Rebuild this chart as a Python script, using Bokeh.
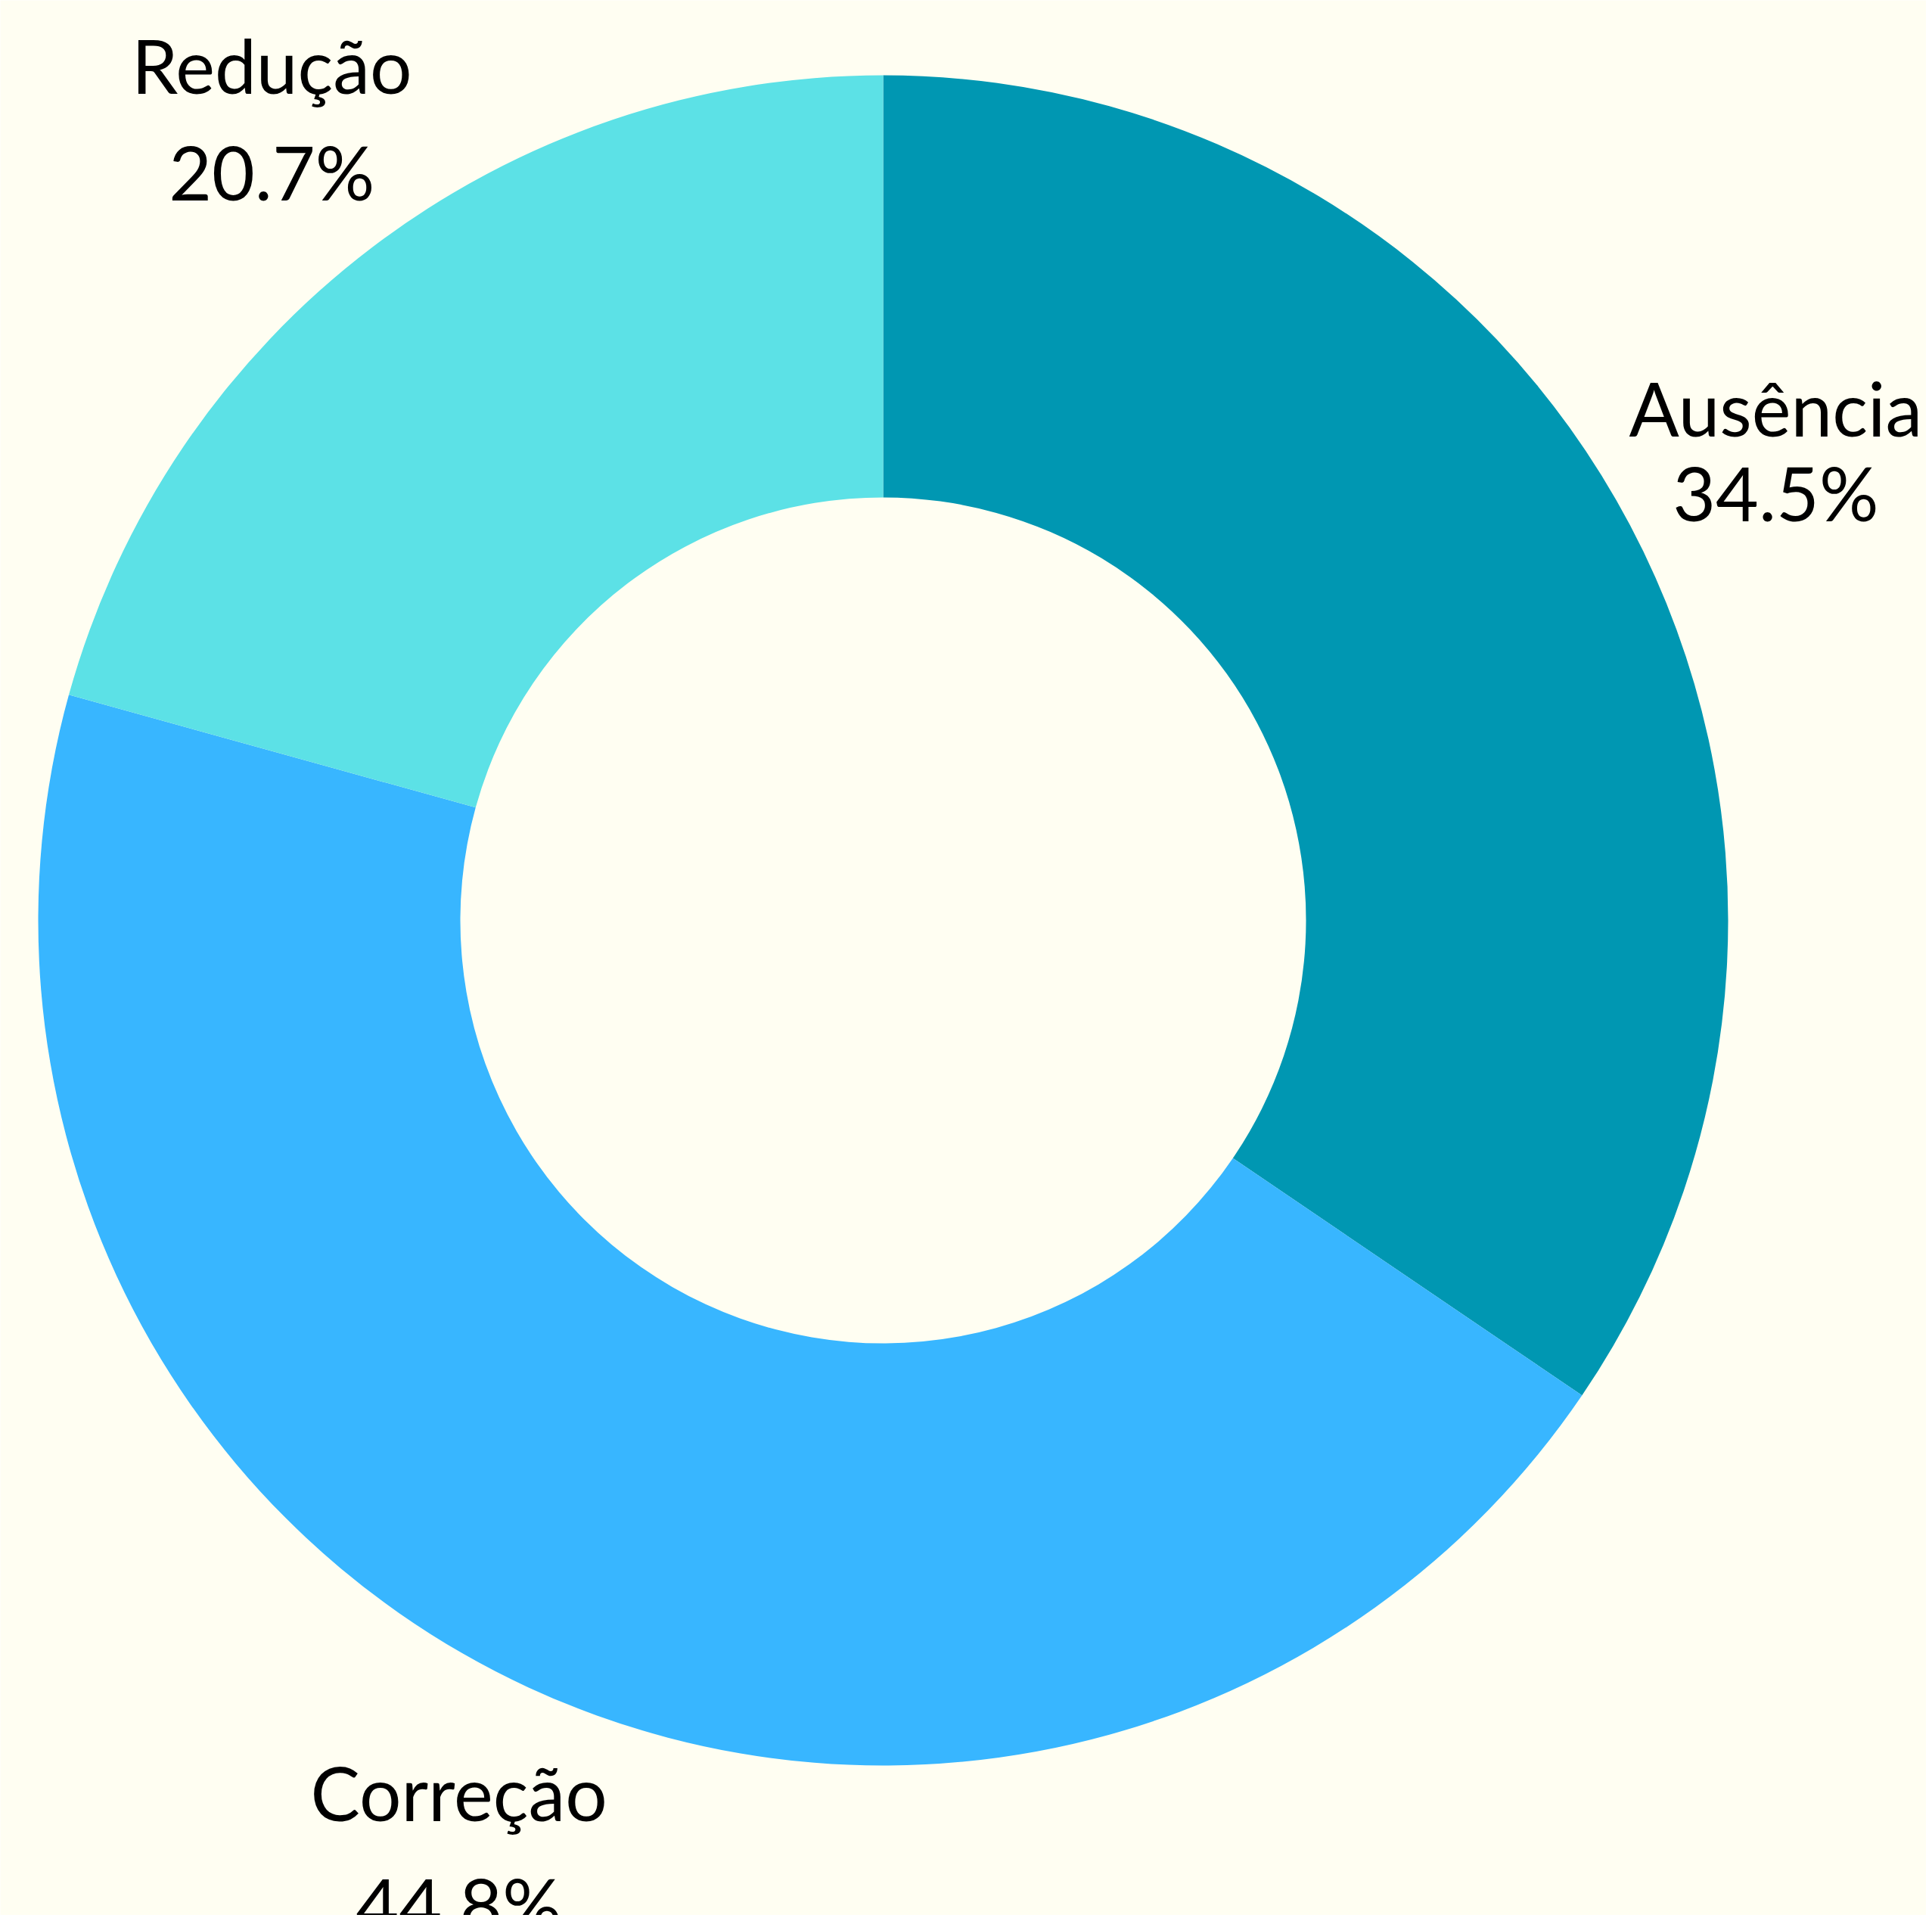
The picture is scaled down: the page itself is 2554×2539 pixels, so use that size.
import math
from bokeh.plotting import figure
from bokeh.models import ColumnDataSource, Range1d
from bokeh.core.properties import value
from bokeh.embed import file_html
from bokeh.resources import INLINE

# Data
categories = ["Ausência", "Correção", "Redução"]
percentages = [34.5, 44.8, 20.7]
colors = ["#0097B2", "#38B6FF", "#5CE1E6"]
pct_labels = ["34.5%", "44.8%", "20.7%"]

BG = "#FFFEF2"
W, H = 2546, 2531
CX, CY = 1167, 1216          # centre on canvas (pixels)
R_OUT, R_IN = 1117, 559
R_LAB = 1335
NAME_OFF = [-53, -59, -68]   # screen offsets of label lines
PCT_OFF = [59, 89, 73]

p = figure(width=W, height=H, output_backend="svg", toolbar_location=None,
           x_range=Range1d(-CX, W - CX), y_range=Range1d(-(H - CY), CY),
           min_border=0, background_fill_color=BG, border_fill_color=BG,
           outline_line_color=None)
p.axis.visible = False
p.grid.visible = False

total = sum(percentages)
starts, ends, mids = [], [], []
cum = 0.0
for v in percentages:
    a0 = math.pi / 2 - 2 * math.pi * cum / total
    cum += v
    a1 = math.pi / 2 - 2 * math.pi * cum / total
    starts.append(a0)
    ends.append(a1)
    mids.append((a0 + a1) / 2)

lx = [R_LAB * math.cos(m) for m in mids]
ly = [R_LAB * math.sin(m) for m in mids]

src = ColumnDataSource(dict(start=starts, end=ends, color=colors))
p.annular_wedge(x=0, y=0, inner_radius=R_IN, outer_radius=R_OUT,
                start_angle="start", end_angle="end", direction="clock",
                fill_color="color", line_color=None, source=src)

for i in range(len(categories)):
    p.text(x=[lx[i]], y=[ly[i]], text=[categories[i]], text_align="center",
           text_baseline="alphabetic", y_offset=NAME_OFF[i],
           text_font=value("Lato"), text_font_size="98px", text_color="#000000")
    p.text(x=[lx[i]], y=[ly[i]], text=[pct_labels[i]], text_align="center",
           text_baseline="alphabetic", y_offset=PCT_OFF[i],
           text_font=value("Lato"), text_font_size="98px", text_color="#000000")

open("out.html", "w").write(file_html(p, INLINE))
